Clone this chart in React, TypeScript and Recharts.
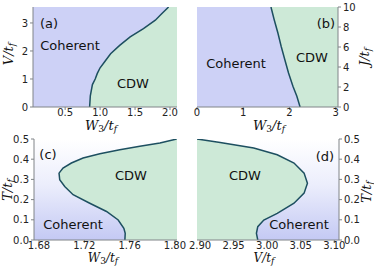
import React from "react";
import { ComposedChart, Area, XAxis, YAxis, CartesianGrid } from "recharts";

// (a) boundary: W3/t_f at given V/t_f
const aV = [0, 0.4, 0.8, 1.0, 1.2, 1.4, 1.6, 1.9, 2.2, 2.5, 2.8, 3.1, 3.3, 3.57];
const aW = [0.85, 0.86, 0.89, 0.93, 0.96, 1.0, 1.06, 1.15, 1.28, 1.43, 1.62, 1.79, 1.87, 1.98];
const aXTicks = [0.5, 1.0, 1.5, 2.0];
const aYTicks = [0, 1, 2, 3];

// (b) boundary: W3/t_f at given J/t_f
const bJ = [0, 1.07, 2.07, 3.4, 4.73, 6.07, 7.4, 8.73, 10];
const bW = [2.23, 2.16, 2.075, 1.98, 1.9, 1.82, 1.75, 1.67, 1.6];
const bXTicks = [0, 1, 2, 3];
const bYTicks = [0, 2, 4, 6, 8, 10];

// (c) boundary: W3/t_f at given T/t_f
const cT = [0, 0.033, 0.058, 0.099, 0.141, 0.182, 0.224, 0.265, 0.298, 0.331, 0.356, 0.381, 0.406, 0.427, 0.447, 0.464, 0.48, 0.5];
const cW = [1.7558, 1.7561, 1.7549, 1.7499, 1.7396, 1.7248, 1.7101, 1.7027, 1.6983, 1.6977, 1.7012, 1.7086, 1.7189, 1.7337, 1.7513, 1.769, 1.7867, 1.8015];
const cXTicks = [1.68, 1.72, 1.76, 1.8];
const tTicks = [0, 0.1, 0.2, 0.3, 0.4, 0.5];

// (d) boundary: V/t_f at given T/t_f
const dT = [0, 0.033, 0.066, 0.099, 0.132, 0.182, 0.232, 0.281, 0.331, 0.381, 0.422, 0.455, 0.483, 0.5];
const dV = [2.986, 2.984, 2.986, 2.995, 3.015, 3.04, 3.055, 3.06, 3.055, 3.04, 3.015, 2.98, 2.93, 2.8955];
const dXTicks = [2.9, 2.95, 3.0, 3.05, 3.1];

const BLUE = "#cdd1f6";
const GREEN = "#cde9d7";
const LINE = "#1d4f60";
const FRAME = "#808488";
const TICK = { fontSize: 10, fill: "#222", fontFamily: "DejaVu Sans" };

const rows = (ys: number[], xs: number[]) => ys.map((y, i) => ({ y, x: xs[i] }));

type PanelProps = {
  left: number;
  top: number;
  data: { y: number; x: number }[];
  xDomain: [number, number];
  yDomain: [number, number];
  xTicks: number[];
  yTicks: number[];
  axisSide: "left" | "right";
  axisWidth: number;
  margin: { top: number; right: number; bottom: number; left: number };
  base: "dataMin" | "dataMax";
  bg: string;
  gradId?: string;
  xFmt?: (v: number) => string;
  yFmt?: (v: number) => string;
};

function Panel(p: PanelProps) {
  const other = p.axisSide === "left" ? "right" : "left";
  return (
    <div style={{ position: "absolute", left: p.left, top: p.top }}>
      <ComposedChart width={187} height={133} data={p.data} layout="vertical" margin={p.margin}>
        {p.gradId && (
          <defs>
            <linearGradient id={p.gradId} x1="0" y1="0" x2="0" y2="1">
              <stop offset="0%" stopColor="#ffffff" />
              <stop offset="45%" stopColor="#eceefc" />
              <stop offset="100%" stopColor="#c4c9f4" />
            </linearGradient>
          </defs>
        )}
        <CartesianGrid horizontal={false} vertical={false} fill={p.bg} stroke="none" />
        <XAxis
          type="number"
          domain={p.xDomain}
          allowDataOverflow
          ticks={p.xTicks}
          tickFormatter={p.xFmt}
          height={26}
          tick={TICK}
          tickSize={3}
          tickMargin={-1}
          stroke={FRAME}
          interval={0}
        />
        <XAxis xAxisId="top" orientation="top" type="number" height={0} tick={false} tickLine={false} stroke={FRAME} />
        <YAxis
          type="number"
          dataKey="y"
          domain={p.yDomain}
          allowDataOverflow
          reversed
          orientation={p.axisSide}
          width={p.axisWidth}
          ticks={p.yTicks}
          tickFormatter={p.yFmt}
          tick={TICK}
          tickSize={3}
          tickMargin={2}
          stroke={FRAME}
          interval={0}
        />
        <YAxis yAxisId="other" orientation={other} type="number" width={0} tick={false} tickLine={false} stroke={FRAME} />
        <Area
          dataKey="x"
          type="linear"
          fill={GREEN}
          fillOpacity={1}
          stroke={LINE}
          strokeWidth={1.5}
          baseValue={p.base}
          isAnimationActive={false}
          dot={false}
          activeDot={false}
        />
      </ComposedChart>
    </div>
  );
}

const txt = (x: number, y: number, s: string, size = 13) => (
  <div
    style={{
      position: "absolute",
      left: x,
      top: y,
      transform: "translate(-50%, -50%)",
      fontFamily: "DejaVu Sans",
      fontSize: size,
      color: "#111",
      whiteSpace: "nowrap",
    }}
  >
    {s}
  </div>
);

const serif: React.CSSProperties = {
  position: "absolute",
  fontFamily: "DejaVu Serif",
  fontStyle: "italic",
  fontSize: 13,
  color: "#111",
  whiteSpace: "nowrap",
  transform: "translate(-50%, -50%)",
  lineHeight: 1,
};
const sub: React.CSSProperties = { fontSize: 9, verticalAlign: "-2px", lineHeight: 1 };

const W3 = (
  <>
    W<span style={{ ...sub, fontStyle: "normal" }}>3</span>/t<span style={sub}>f</span>
  </>
);
const over = (v: string) => (
  <>
    {v}/t<span style={sub}>f</span>
  </>
);

const xlab = (x: number, y: number, c: React.ReactNode, size = 13) => (
  <div style={{ ...serif, left: x, top: y, fontSize: size }}>{c}</div>
);
const ylab = (x: number, y: number, c: React.ReactNode) => (
  <div style={{ ...serif, left: x, top: y, transform: "translate(-50%, -50%) rotate(-90deg)" }}>{c}</div>
);

const f2 = (v: number) => v.toFixed(2);
const f1 = (v: number) => v.toFixed(1);

export default function App() {
  return (
    <div style={{ position: "absolute", left: 0, top: 0, width: 374, height: 266, background: "#fff", overflow: "hidden" }}>
      <Panel
        left={0}
        top={0}
        data={rows(aV, aW)}
        xDomain={[0.04, 2.1]}
        yDomain={[0, 3.57]}
        xTicks={aXTicks}
        yTicks={aYTicks}
        xFmt={f1}
        axisSide="left"
        axisWidth={33}
        margin={{ top: 7, right: 10, bottom: 0, left: 0 }}
        base="dataMax"
        bg={BLUE}
      />
      <Panel
        left={187}
        top={0}
        data={rows(bJ, bW)}
        xDomain={[0, 3.05]}
        yDomain={[0, 10]}
        xTicks={bXTicks}
        yTicks={bYTicks}
        axisSide="right"
        axisWidth={36}
        margin={{ top: 7, right: 0, bottom: 0, left: 10 }}
        base="dataMax"
        bg={BLUE}
      />
      <Panel
        left={0}
        top={133}
        data={rows(cT, cW)}
        xDomain={[1.6756, 1.8018]}
        yDomain={[0, 0.5]}
        xTicks={cXTicks}
        yTicks={tTicks}
        xFmt={f2}
        yFmt={f1}
        axisSide="left"
        axisWidth={34}
        margin={{ top: 6, right: 10, bottom: 0, left: 0 }}
        base="dataMax"
        bg="url(#gradC)"
        gradId="gradC"
      />
      <Panel
        left={187}
        top={133}
        data={rows(dT, dV)}
        xDomain={[2.8955, 3.107]}
        yDomain={[0, 0.5]}
        xTicks={dXTicks}
        yTicks={tTicks}
        xFmt={f2}
        yFmt={f1}
        axisSide="right"
        axisWidth={35}
        margin={{ top: 6, right: 0, bottom: 0, left: 10 }}
        base="dataMin"
        bg="url(#gradD)"
        gradId="gradD"
      />

      {txt(49, 23, "(a)")}
      {txt(70, 45, "Coherent")}
      {txt(133, 83, "CDW")}
      {txt(326, 23, "(b)")}
      {txt(236, 63, "Coherent")}
      {txt(312, 57, "CDW")}
      {txt(48, 154, "(c)")}
      {txt(131, 175, "CDW")}
      {txt(73, 224, "Coherent")}
      {txt(325, 156, "(d)")}
      {txt(245, 175, "CDW")}
      {txt(299, 224, "Coherent")}

      {xlab(101, 126, W3)}
      {xlab(269, 126, W3)}
      {xlab(103, 258.5, W3, 12)}
      {xlab(264, 258.5, over("V"), 12)}
      {ylab(9, 54, over("V"))}
      {ylab(365, 57, over("J"))}
      {ylab(8, 190, over("T"))}
      {ylab(367, 192, over("T"))}
    </div>
  );
}
